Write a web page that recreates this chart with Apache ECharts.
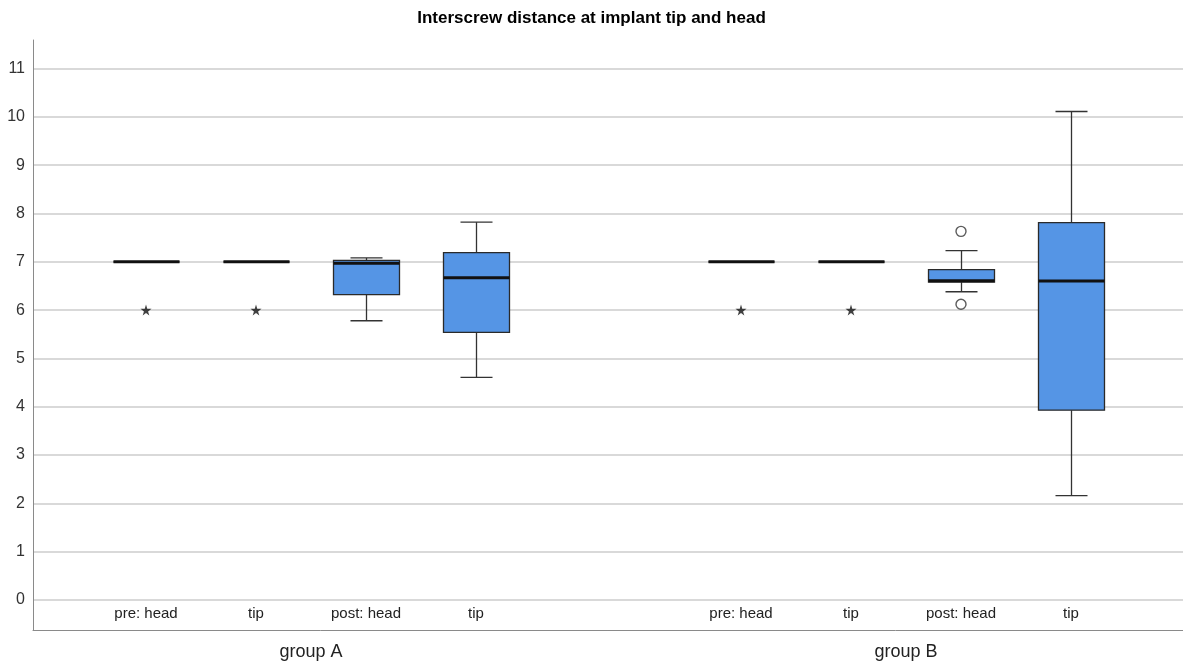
<!DOCTYPE html>
<html>
<head>
<meta charset="utf-8">
<script src="https://cdn.jsdelivr.net/npm/echarts@6/dist/echarts.min.js"></script>
<style>html,body{margin:0;padding:0;background:#fff;}#c{width:1183px;height:665px;}</style>
</head>
<body>
<div id="c"></div>
<script>
// ---- data ----
var groups = ['group A', 'group B'];
var measures = ['pre: head', 'tip', 'post: head', 'tip'];
// [lower whisker, Q1, median, Q3, upper whisker]
var boxGroupA = [[7, 7, 7, 7, 7], [7, 7, 7, 7, 7], [5.78, 6.32, 6.97, 7.03, 7.08], [4.61, 5.54, 6.67, 7.19, 7.82]];
var boxGroupB = [[7, 7, 7, 7, 7], [7, 7, 7, 7, 7], [6.38, 6.58, 6.61, 6.84, 7.23], [2.16, 3.93, 6.60, 7.81, 10.11]];
// extremes (stars): [measure index, value]
var extremesA = [[0, 6], [1, 6]];
var extremesB = [[0, 6], [1, 6]];
// outliers (circles): [measure index, value]
var outliersA = [];
var outliersB = [[2, 7.63], [2, 6.12]];
var yTicks = [0, 1, 2, 3, 4, 5, 6, 7, 8, 9, 10, 11];

// ---- layout helpers (axis units: one group = 1) ----
var slot = 110 / 595;
function pos(g, k) { return g + (k - 1.5) * slot; }

var boxData = [];
[boxGroupA, boxGroupB].forEach(function (arr, g) {
  arr.forEach(function (b, k) { boxData.push([pos(g, k)].concat(b)); });
});
var starData = [], circleData = [];
[extremesA, extremesB].forEach(function (arr, g) { arr.forEach(function (e) { starData.push([pos(g, e[0]), e[1]]); }); });
[outliersA, outliersB].forEach(function (arr, g) { arr.forEach(function (e) { circleData.push([pos(g, e[0]), e[1]]); }); });
var subPositions = [], subLabels = [];
groups.forEach(function (gname, g) {
  measures.forEach(function (m, k) { subPositions.push(pos(g, k)); subLabels.push(m); });
});

var xMin = -278 / 595, xMax = 872 / 595;
var chart = echarts.init(document.getElementById('c'));
var FONT = '"Liberation Sans", Arial, sans-serif';

chart.setOption({
  animation: false,
  title: {
    text: 'Interscrew distance at implant tip and head',
    left: 'center', top: 5,
    textStyle: { fontFamily: FONT, fontSize: 17, fontWeight: 'bold', color: '#000' }
  },
  grid: { left: 33, right: 0, top: 40, bottom: 35 },
  xAxis: [{
    type: 'value', min: xMin, max: xMax, position: 'bottom',
    axisLine: { show: true, onZero: false, lineStyle: { color: '#8a8a8a', width: 1 } },
    axisTick: { show: false },
    splitLine: { show: false },
    axisLabel: {
      customValues: [0, 1], margin: 13,
      fontFamily: FONT, fontSize: 18, color: '#222',
      formatter: function (v) { return groups[Math.round(v)]; }
    }
  }, {
    type: 'value', min: xMin, max: xMax, position: 'bottom',
    axisLine: { show: false, onZero: false }, axisTick: { show: false }, splitLine: { show: false },
    axisLabel: {
      inside: true, customValues: subPositions, margin: 9,
      fontFamily: FONT, fontSize: 15, color: '#222',
      formatter: function (v) {
        var best = 0;
        for (var i = 0; i < subPositions.length; i++) if (Math.abs(subPositions[i] - v) < Math.abs(subPositions[best] - v)) best = i;
        return subLabels[best];
      }
    }
  }],
  yAxis: {
    type: 'value', min: -0.62, max: 11.59,
    axisLine: { show: true, onZero: false, lineStyle: { color: '#8a8a8a', width: 1 } },
    axisTick: { show: false, customValues: yTicks },
    splitLine: { show: true, lineStyle: { color: '#d9d9d9', width: 2 } },
    axisLabel: { customValues: yTicks, margin: 8, fontFamily: FONT, fontSize: 16, color: '#333' }
  },
  series: [{
    type: 'custom',
    xAxisIndex: 0,
    data: boxData,
    renderItem: function (params, api) {
      var x = api.value(0);
      var w = 66;
      var cap = 32;
      var pLo = api.coord([x, api.value(1)]);
      var pQ1 = api.coord([x, api.value(2)]);
      var pMed = api.coord([x, api.value(3)]);
      var pQ3 = api.coord([x, api.value(4)]);
      var pHi = api.coord([x, api.value(5)]);
      var cx = Math.round(pMed[0]) + 0.5;
      var ls = { stroke: '#333', lineWidth: 1.3 };
      return {
        type: 'group',
        children: [
          { type: 'line', shape: { x1: cx, y1: pQ3[1], x2: cx, y2: pHi[1] }, style: ls },
          { type: 'line', shape: { x1: cx, y1: pQ1[1], x2: cx, y2: pLo[1] }, style: ls },
          { type: 'line', shape: { x1: cx - cap / 2, y1: pHi[1], x2: cx + cap / 2, y2: pHi[1] }, style: ls },
          { type: 'line', shape: { x1: cx - cap / 2, y1: pLo[1], x2: cx + cap / 2, y2: pLo[1] }, style: ls },
          { type: 'rect', shape: { x: cx - w / 2, y: pQ3[1], width: w, height: pQ1[1] - pQ3[1] },
            style: { fill: '#5595e5', stroke: '#2a2a2a', lineWidth: 1.3 } },
          { type: 'line', shape: { x1: cx - w / 2, y1: pMed[1], x2: cx + w / 2, y2: pMed[1] },
            style: { stroke: '#111', lineWidth: 3 } }
        ]
      };
    }
  }, {
    type: 'scatter', xAxisIndex: 0, data: starData,
    symbol: 'path://M50,0 L61,35 L98,35 L68,57 L79,91 L50,70 L21,91 L32,57 L2,35 L39,35 Z',
    symbolSize: 11, itemStyle: { color: '#111' }
  }, {
    type: 'scatter', xAxisIndex: 0, data: circleData,
    symbol: 'circle', symbolSize: 10,
    itemStyle: { color: '#fff', borderColor: '#333', borderWidth: 1.4 }
  }]
});
</script>
</body>
</html>
